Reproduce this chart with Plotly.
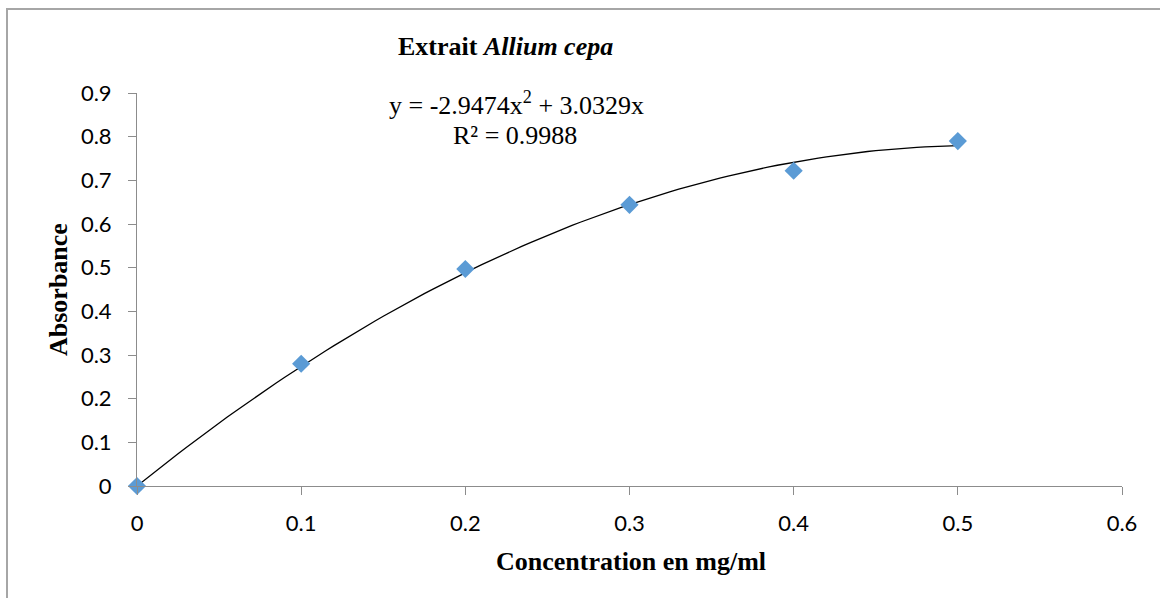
import plotly.graph_objects as go
import numpy as np

# Data
concentration = [0, 0.1, 0.2, 0.3, 0.4, 0.5]
absorbance = [0.0, 0.28, 0.497, 0.644, 0.722, 0.79]
# trendline coefficients (as displayed): y = a x^2 + b x
coef_a = -2.9474
coef_b = 3.0329
x_ticks = [0, 0.1, 0.2, 0.3, 0.4, 0.5, 0.6]
y_ticks = [0, 0.1, 0.2, 0.3, 0.4, 0.5, 0.6, 0.7, 0.8, 0.9]

xt = np.linspace(0, 0.5, 101)
yt = coef_a * xt**2 + coef_b * xt

L, R, T, B = 137, 38, 93, 112
W, H = 1160, 598
pw, ph = W - L - R, H - T - B

def px(x):
    return (x - L) / pw

def py(y):
    return (H - B - y) / ph

fig = go.Figure()
fig.add_trace(go.Scatter(x=xt, y=yt, mode="lines", line=dict(color="black", width=1.3),
                         hoverinfo="skip", showlegend=False))
fig.add_trace(go.Scatter(x=concentration, y=absorbance, mode="markers",
                         marker=dict(symbol="diamond", size=14, color="#5B9BD5"),
                         showlegend=False, cliponaxis=False))

axis_common = dict(showgrid=False, zeroline=False, showline=True, linecolor="#8C8C8C",
                   linewidth=1, ticks="outside", ticklen=8, tickcolor="#8C8C8C",
                   tickfont=dict(family="Lato", size=22, color="black"))

fig.update_xaxes(range=[0, 0.6], tickvals=x_ticks, ticktext=[f"{v:g}" for v in x_ticks],
                 ticklabelstandoff=10, **axis_common)
fig.update_yaxes(range=[0, 0.9], tickvals=y_ticks, ticktext=[f"{v:g}" for v in y_ticks],
                 ticklabelstandoff=12, **axis_common)

serif = "Liberation Serif"
def ann(x, y, text, size, angle=0):
    return dict(xref="paper", yref="paper", x=px(x), y=py(y), showarrow=False,
                xanchor="center", yanchor="middle", textangle=angle, text=text,
                font=dict(family=serif, size=size, color="black"))

fig.update_layout(
    width=W, height=H,
    margin=dict(l=L, r=R, t=T, b=B),
    plot_bgcolor="white", paper_bgcolor="white",
    shapes=[dict(type="rect", xref="paper", yref="paper",
                 x0=px(7), x1=px(1200), y0=py(640), y1=py(9),
                 line=dict(color="#A6A6A6", width=2), fillcolor="rgba(0,0,0,0)", layer="below")],
    annotations=[
        ann(505, 47, "<b>Extrait <i>Allium cepa</i></b>", 26),
        ann(516, 104, "y = -2.9474x<sup>2</sup> + 3.0329x", 26),
        ann(515, 135, "R² = 0.9988", 26),
        ann(631, 561, "<b>Concentration en mg/ml</b>", 26),
        ann(58, 290, "<b>Absorbance</b>", 26, -90),
    ],
)

fig.write_html("out.html")
